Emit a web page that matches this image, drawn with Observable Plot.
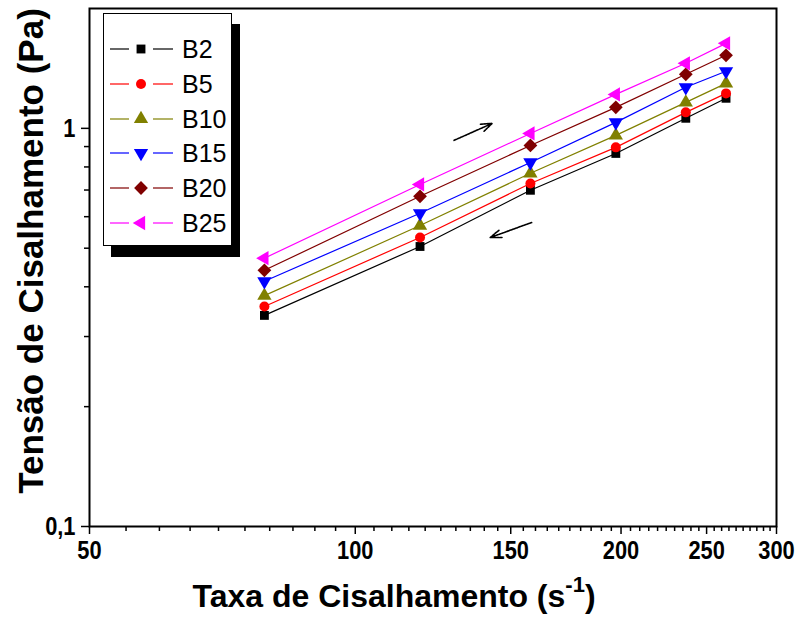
<!DOCTYPE html>
<html><head><meta charset="utf-8">
<script src="https://cdn.jsdelivr.net/npm/d3@7"></script>
<script src="https://cdn.jsdelivr.net/npm/@observablehq/plot@0.6"></script>
<style>
body{margin:0;background:#fff;}
#wrap{position:relative;width:800px;height:622px;overflow:hidden;}
.ttl{position:absolute;font-family:"Liberation Sans",Arial,sans-serif;font-weight:bold;color:#000;white-space:nowrap;line-height:1;}
#xt{left:0;width:788px;text-align:center;top:580px;font-size:32px;}
#xt sup{font-size:22px;position:relative;top:-6px;vertical-align:top;}
#yt{left:30px;top:251px;font-size:35px;transform:translate(-50%,-50%) rotate(-90deg);}
#legend{position:absolute;left:103px;top:13px;width:127px;height:231px;border:1px solid #000;background:#fff;box-shadow:8px 11px 0 #000;}
.row{position:absolute;left:0;height:30px;}
.row svg{position:absolute;left:0;top:0;}
.row span{position:absolute;left:78px;top:1px;font-family:"Liberation Sans",Arial,sans-serif;font-size:25px;line-height:28px;color:#000;}
</style></head><body>
<div id="wrap"></div>
<script>
// data
const shearRate = [78.9, 118.4, 157.9, 197.3, 236.8, 263];
const seriesNames = ["B2", "B5", "B10", "B15", "B20", "B25"];
const B2  = [0.339, 0.505, 0.699, 0.865, 1.060, 1.190];
const B5  = [0.357, 0.532, 0.727, 0.896, 1.097, 1.224];
const B10 = [0.380, 0.570, 0.771, 0.960, 1.162, 1.297];
const B15 = [0.413, 0.612, 0.821, 1.035, 1.268, 1.391];
const B20 = [0.440, 0.675, 0.906, 1.129, 1.367, 1.526];
const B25 = [0.472, 0.723, 0.971, 1.217, 1.457, 1.635];
const seriesValues = [B2, B5, B10, B15, B20, B25];
const colors = ["#000000", "#ff0000", "#808000", "#0000ff", "#800000", "#ff00ff"];
const symbols = ["square", "circle", "triangle", "triangle", "diamond2", "triangle"];
const rotations = [0, 0, 0, 180, 0, -90];
const markerR = [5.0, 5.0, 5.3, 5.3, 6.2, 5.3];
const xTicks = [50, 100, 150, 200, 250, 300];
const xTickLabels = ["50", "100", "150", "200", "250", "300"];
const yTicks = [0.1, 1];
const yTickLabels = ["0,1", "1"];
const yMinorTicks = [0.2, 0.3, 0.4, 0.5, 0.6, 0.7, 0.8, 0.9];
const arrowsData = [
  {x1: 129.4, y1: 0.933, x2: 142.9, y2: 1.029},
  {x1: 158.4, y1: 0.580, x2: 142.2, y2: 0.532}
];

const xMinorTicks = d3.range(55, 300, 5).filter(v => v % 50 !== 0);
const rows = [];
seriesNames.forEach((s, i) => seriesValues[i].forEach((v, j) => rows.push({series: s, x: shearRate[j], y: v})));

const marks = [];
seriesNames.forEach((s, i) => {
  const d = rows.filter(r => r.series === s);
  marks.push(Plot.line(d, {x: "x", y: "y", stroke: colors[i], strokeWidth: 1.2}));
});
seriesNames.forEach((s, i) => {
  const d = rows.filter(r => r.series === s);
  marks.push(Plot.dot(d, {x: "x", y: "y", symbol: symbols[i], fill: colors[i], stroke: "none",
    r: markerR[i], rotate: rotations[i]}));
});

const chart = Plot.plot({
  width: 800, height: 622,
  marginLeft: 89, marginRight: 24, marginTop: 8, marginBottom: 96,
  x: {type: "log", domain: [50, 300]},
  y: {type: "log", domain: [0.1, 2]},
  style: {background: "#fff", color: "#000", fontFamily: '"Liberation Sans",Arial,sans-serif'},
  marks: [
    ...marks,
    Plot.arrow(arrowsData, {x1: "x1", y1: "y1", x2: "x2", y2: "y2", stroke: "#000", strokeWidth: 1.6, headLength: 11, headAngle: 40, strokeDasharray: "2,1"}),
    Plot.axisX({ticks: xMinorTicks, tickSize: 5, tickFormat: () => "", strokeWidth: 1.5, label: null}),
    Plot.axisX({ticks: xTicks, tickSize: 8, tickPadding: 6, tickFormat: d => xTickLabels[xTicks.indexOf(d)],
      fontSize: 26, fontWeight: "bold", strokeWidth: 1.5, label: null}),
    Plot.axisY({ticks: yMinorTicks, tickSize: 5, tickFormat: () => "", strokeWidth: 1.5, label: null}),
    Plot.axisY({ticks: yTicks, tickSize: 8, tickPadding: 6, tickFormat: d => yTickLabels[yTicks.indexOf(d)],
      fontSize: 26, fontWeight: "bold", strokeWidth: 1.5, label: null}),
    Plot.frame({stroke: "#000", strokeWidth: 2})
  ]
});

const wrap = document.getElementById("wrap");
wrap.appendChild(chart);

// condense tick labels horizontally (narrow bold look), around their anchor
chart.querySelectorAll('g[aria-label$="tick label"] text').forEach(t => {
  if (!t.textContent) return;
  const bb = t.getBBox();
  let ex = 0;
  const tl = t.transform && t.transform.baseVal;
  if (tl && tl.numberOfItems) { const m = tl.consolidate().matrix; ex = m.e; }
  const anchor = t.closest("g").getAttribute("text-anchor") || t.getAttribute("text-anchor");
  const cx = ex + (anchor === "end" ? bb.x + bb.width : bb.x + bb.width / 2);
  const g = document.createElementNS("http://www.w3.org/2000/svg", "g");
  g.setAttribute("transform", `translate(${cx},0) scale(0.84,1) translate(${-cx},0)`);
  t.parentNode.insertBefore(g, t);
  g.appendChild(t);
});

const xt = document.createElement("div");
xt.className = "ttl"; xt.id = "xt";
xt.innerHTML = "Taxa de Cisalhamento (s<sup>-1</sup>)";
wrap.appendChild(xt);
const yt = document.createElement("div");
yt.className = "ttl"; yt.id = "yt";
yt.textContent = "Tensão de Cisalhamento (Pa)";
wrap.appendChild(yt);

// legend
const legend = document.createElement("div");
legend.id = "legend";
const symType = {square: d3.symbolSquare, circle: d3.symbolCircle, triangle: d3.symbolTriangle, diamond2: d3.symbolDiamond2};
seriesNames.forEach((s, i) => {
  const row = document.createElement("div");
  row.className = "row";
  row.style.top = (20 + i * 34.8) + "px";
  const r = markerR[i];
  const path = d3.symbol().type(symType[symbols[i]]).size(Math.PI * r * r)();
  row.innerHTML = `<svg width="76" height="30"><line x1="6" x2="25" y1="15" y2="15" stroke="${colors[i]}" stroke-width="1.2"/>` +
    `<line x1="49" x2="69" y1="15" y2="15" stroke="${colors[i]}" stroke-width="1.2"/>` +
    `<path d="${path}" fill="${colors[i]}" transform="translate(37,15) rotate(${rotations[i]})"/></svg><span>${s}</span>`;
  legend.appendChild(row);
});
wrap.appendChild(legend);
</script>
</body></html>
